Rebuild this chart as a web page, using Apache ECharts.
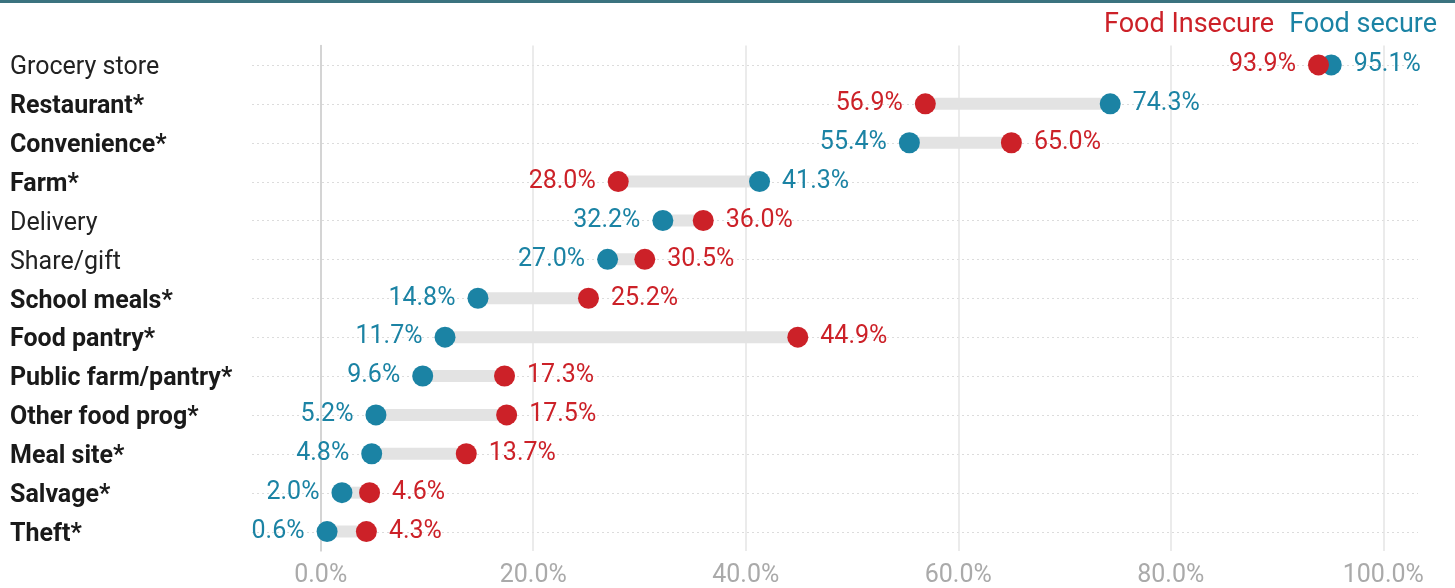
<!DOCTYPE html>
<html>
<head>
<meta charset="utf-8">
<script src="https://cdn.jsdelivr.net/npm/echarts@6/dist/echarts.min.js"></script>
<style>
  html, body { margin: 0; padding: 0; background: #fff; }
  #chart { width: 1455px; height: 588px; }
</style>
</head>
<body>
<div id="chart"></div>
<script>
// rows, top to bottom
var categories = ['Grocery store', 'Restaurant*', 'Convenience*', 'Farm*', 'Delivery', 'Share/gift',
    'School meals*', 'Food pantry*', 'Public farm/pantry*', 'Other food prog*', 'Meal site*', 'Salvage*', 'Theft*'];
var insecure = [93.9, 56.9, 65.0, 28.0, 36.0, 30.5, 25.2, 44.9, 17.3, 17.5, 13.7, 4.6, 4.3];
var secure = [95.1, 74.3, 55.4, 41.3, 32.2, 27.0, 14.8, 11.7, 9.6, 5.2, 4.8, 2.0, 0.6];
var xTicks = [0, 20, 40, 60, 80, 100];

var RED = '#cc2128';
var TEAL = '#1b83a4';

var chart = echarts.init(document.getElementById('chart'));

function pts(vals, other) {
    return vals.map(function (v, i) {
        return {
            value: [v, categories[i]],
            label: { position: v <= other[i] ? 'left' : 'right' }
        };
    });
}

var lows = insecure.map(function (v, i) { return Math.min(v, secure[i]); });
var spans = insecure.map(function (v, i) { return Math.abs(v - secure[i]); });

var dotLabel = {
    show: true,
    fontSize: 25,
    fontFamily: 'Roboto',
    distance: 12,
    padding: [4, 0, 0, 0],
    formatter: function (p) { return p.value[0].toFixed(1) + '%'; }
};

var option = {
    animation: false,
    textStyle: { fontFamily: 'Roboto' },
    graphic: [{
        type: 'rect',
        shape: { x: 0, y: 0, width: 1455, height: 3 },
        style: { fill: '#3b737f' }
    }],
    legend: {
        right: 18,
        top: 12,
        padding: 0,
        itemWidth: 0,
        itemHeight: 0,
        itemGap: 10,
        icon: 'none',
        selectedMode: false,
        textStyle: { fontSize: 27, fontFamily: 'Roboto' },
        data: [
            { name: 'Food Insecure', textStyle: { color: RED } },
            { name: 'Food secure', textStyle: { color: TEAL } }
        ]
    },
    grid: [
        { left: 320.7, right: 71.7, top: 45.5, bottom: 36.5 },
        { left: 252, right: 37, top: 65, bottom: 56 }
    ],
    xAxis: [{
        gridIndex: 0,
        type: 'value',
        min: xTicks[0],
        max: xTicks[xTicks.length - 1],
        interval: xTicks[1] - xTicks[0],
        axisLine: { show: false },
        axisTick: { show: false },
        splitLine: { lineStyle: { color: '#e4e4e4', width: 1.5 } },
        axisLabel: {
            color: '#aaaaaa',
            fontSize: 25,
            margin: 12,
            formatter: function (v) { return v.toFixed(1) + '%'; }
        }
    }, {
        gridIndex: 1,
        type: 'value',
        show: false
    }],
    yAxis: [{
        gridIndex: 0,
        type: 'category',
        data: categories,
        inverse: true,
        axisTick: { show: false },
        axisLine: { lineStyle: { color: '#cccccc', width: 1.5 } },
        splitLine: { show: false },
        axisLabel: {
            align: 'left',
            margin: 310.7,
            padding: [6, 0, 0, 0],
            formatter: function (name) {
                return name.indexOf('*') >= 0 ? '{b|' + name + '}' : '{n|' + name + '}';
            },
            rich: {
                b: { fontSize: 25, fontWeight: 'bold', color: '#1a1a1a', fontFamily: 'Roboto' },
                n: { fontSize: 25, color: '#222222', fontFamily: 'Roboto' }
            }
        }
    }, {
        gridIndex: 1,
        type: 'category',
        data: categories,
        inverse: true,
        boundaryGap: false,
        axisLine: { show: false },
        axisTick: { show: false },
        axisLabel: { show: false },
        splitLine: { show: true, interval: 0, lineStyle: { color: '#dcdcdc', type: [2, 3], width: 1 } }
    }],
    series: [{
        type: 'bar',
        name: 'base',
        stack: 'conn',
        xAxisIndex: 0,
        yAxisIndex: 0,
        barWidth: 12,
        itemStyle: { color: 'transparent' },
        data: lows,
        silent: true
    }, {
        type: 'bar',
        name: 'gap',
        stack: 'conn',
        xAxisIndex: 0,
        yAxisIndex: 0,
        barWidth: 12,
        itemStyle: { color: '#e3e3e3' },
        data: spans,
        silent: true
    }, {
        type: 'scatter',
        name: 'Food secure',
        xAxisIndex: 0,
        yAxisIndex: 0,
        symbolSize: 21,
        itemStyle: { color: TEAL, opacity: 1 },
        label: Object.assign({ color: TEAL }, dotLabel),
        data: pts(secure, insecure),
        z: 3
    }, {
        type: 'scatter',
        name: 'Food Insecure',
        xAxisIndex: 0,
        yAxisIndex: 0,
        symbolSize: 21,
        itemStyle: { color: RED, opacity: 1 },
        label: Object.assign({ color: RED }, dotLabel),
        data: pts(insecure, secure),
        z: 4
    }]
};

chart.setOption(option);
</script>
</body>
</html>
